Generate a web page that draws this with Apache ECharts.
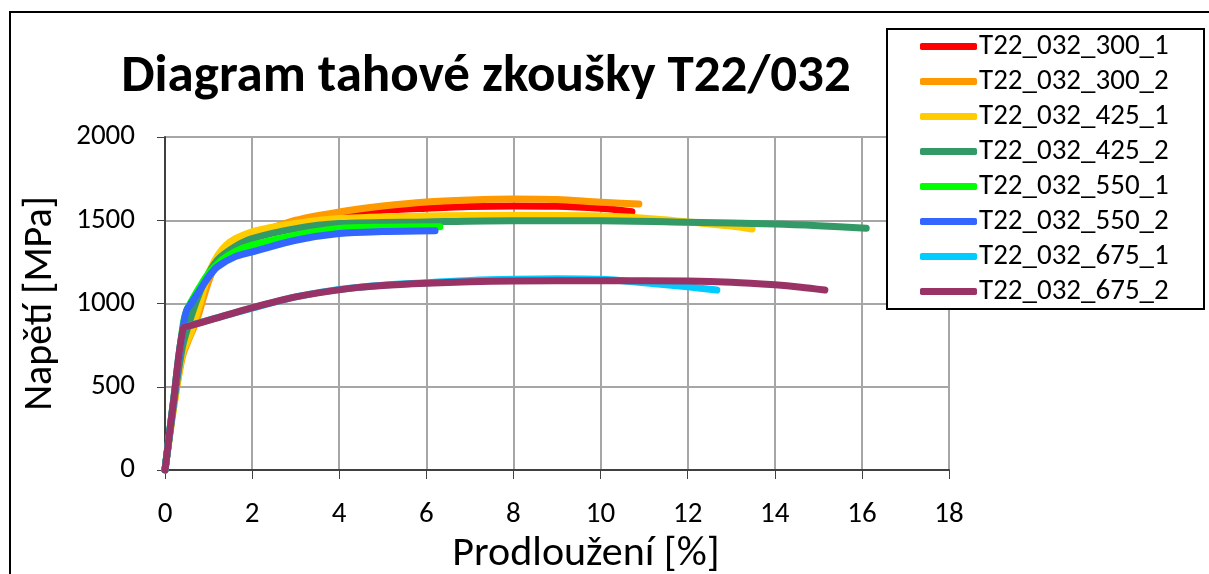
<!DOCTYPE html>
<html>
<head>
<meta charset="utf-8">
<script src="https://cdn.jsdelivr.net/npm/echarts@6/dist/echarts.min.js"></script>
<style>
  html, body { margin: 0; padding: 0; background: #fff; }
  #chart { width: 1209px; height: 574px; }
</style>
</head>
<body>
<div id="chart"></div>
<script>
// Tensile test curves: elongation [%] vs. stress [MPa]
const seriesNames = [
  'T22_032_300_1', 'T22_032_300_2', 'T22_032_425_1', 'T22_032_425_2',
  'T22_032_550_1', 'T22_032_550_2', 'T22_032_675_1', 'T22_032_675_2'
];
const seriesColors = ['#ff0000', '#ff9900', '#ffcc00', '#339966', '#00ff00', '#3366ff', '#00ccff', '#993366'];

const s300_1 = [[0,0],[0.2,400],[0.4,740],[0.55,860],[0.7,950],[0.9,1080],[1.2,1250],[1.6,1360],[2,1415],[3,1490],[4,1540],[5,1560],[6,1572],[7,1582],[8,1586],[9,1584],[10,1572],[10.4,1562],[10.72,1551]];
const s300_2 = [[0,0],[0.2,380],[0.4,680],[0.57,800],[0.73,900],[0.9,1050],[1.1,1200],[1.4,1320],[1.7,1380],[2,1410],[3,1500],[4,1550],[5,1585],[6,1610],[7,1622],[8,1628],[9,1625],[10,1608],[10.88,1598]];
const s425_1 = [[0,0],[0.2,380],[0.4,700],[0.6,830],[0.8,1000],[1.03,1200],[1.4,1350],[2,1430],[3,1480],[4,1510],[6,1525],[8,1530],[10,1525],[11,1512],[12,1490],[13,1465],[13.48,1447]];
const s425_2 = [[0,0],[0.2,400],[0.4,740],[0.55,880],[0.7,1000],[0.9,1130],[1.2,1260],[1.6,1340],[2,1390],[3,1450],[4,1480],[6,1490],[8,1497],[10,1497],[12,1488],[14,1477],[15,1467],[16.1,1452]];
const s550_1 = [[0,0],[0.2,430],[0.42,880],[0.5,960],[0.6,1010],[0.8,1100],[1.0,1180],[1.3,1260],[1.6,1310],[2,1350],[3,1410],[4,1450],[5,1458],[6.31,1461]];
const s550_2 = [[0,0],[0.2,420],[0.43,880],[0.5,960],[0.6,1000],[0.8,1080],[1.0,1160],[1.2,1220],[1.6,1280],[2,1310],[3,1380],[4,1420],[5,1432],[6.2,1437]];
const s675_1 = [[0,0],[0.2,420],[0.42,851],[0.6,870],[1,900],[2,972],[3,1040],[4,1085],[5,1110],[6,1125],[7,1138],[8,1145],[9,1148],[10,1145],[11,1125],[12,1100],[12.67,1081]];
const s675_2 = [[0,0],[0.2,420],[0.42,851],[0.6,868],[1,898],[1.95,971],[3,1040],[4.25,1091],[5,1108],[6,1121],[7,1130],[8,1135],[10,1137],[12,1135],[13,1128],[14,1112],[14.6,1098],[15.15,1081]];
const seriesData = [s300_1, s300_2, s425_1, s425_2, s550_1, s550_2, s675_1, s675_2];

const titleText = 'Diagram tahové zkoušky T22/032';
const xAxisName = 'Prodloužení [%]';
const yAxisName = 'Napětí [MPa]';

const FONT = 'Carlito, Lato, "Open Sans", sans-serif';

const chart = echarts.init(document.getElementById('chart'), null, { renderer: 'canvas' });

chart.setOption({
  backgroundColor: '#ffffff',
  animation: false,
  title: {
    text: titleText,
    left: 481, top: 46,
    textAlign: 'center',
    textStyle: { fontFamily: FONT, fontSize: 53, fontWeight: 'bold', color: '#000' }
  },
  graphic: [{
    type: 'rect', silent: true, z: -1,
    shape: { x: 10, y: 12, width: 1230, height: 620 },
    style: { fill: 'none', stroke: '#000', lineWidth: 2 }
  }],
  legend: {
    orient: 'vertical',
    left: 887, top: 29,
    padding: [0, 35, 0, 33],
    itemGap: 0,
    itemWidth: 57, itemHeight: 7,
    icon: 'roundRect',
    borderColor: '#000', borderWidth: 2,
    backgroundColor: '#fff',
    data: seriesNames,
    textStyle: { fontFamily: FONT, fontSize: 29, color: '#000', lineHeight: 35, width: 190, padding: [0, 0, 0, -3] }
  },
  grid: { left: 165, right: 260, top: 137, bottom: 104, containLabel: false, outerBoundsMode: 'none' },
  xAxis: {
    type: 'value', min: 0, max: 18, interval: 2,
    name: xAxisName, nameLocation: 'middle', nameGap: 60,
    nameTextStyle: { fontFamily: FONT, fontSize: 42, color: '#000', padding: [0, 0, 0, 58] },
    axisLine: { show: true, onZero: false, lineStyle: { color: '#404040', width: 2 } },
    axisTick: { show: true, length: 9, lineStyle: { color: '#404040', width: 1 } },
    axisLabel: { fontFamily: FONT, fontSize: 29, color: '#000', margin: 30 },
    splitLine: { show: true, lineStyle: { color: '#a6a6a6', width: 2 } }
  },
  yAxis: {
    type: 'value', min: 0, max: 2000, interval: 500,
    name: yAxisName, nameLocation: 'middle', nameGap: 104,
    nameTextStyle: { fontFamily: FONT, fontSize: 40, color: '#000' },
    axisLine: { show: true, onZero: false, lineStyle: { color: '#404040', width: 2 } },
    axisTick: { show: true, length: 8, lineStyle: { color: '#404040', width: 1 } },
    axisLabel: { fontFamily: FONT, fontSize: 29, color: '#000', margin: 30, formatter: v => String(v) },
    splitLine: { show: true, lineStyle: { color: '#a6a6a6', width: 2 } }
  },
  series: seriesNames.map((name, i) => ({
    name: name,
    type: 'line',
    data: seriesData[i],
    smooth: 0.3,
    showSymbol: false,
    symbol: 'none',
    color: seriesColors[i],
    lineStyle: { color: seriesColors[i], width: 7, cap: 'round', join: 'round' },
    z: 2 + i
  }))
});
</script>
</body>
</html>
